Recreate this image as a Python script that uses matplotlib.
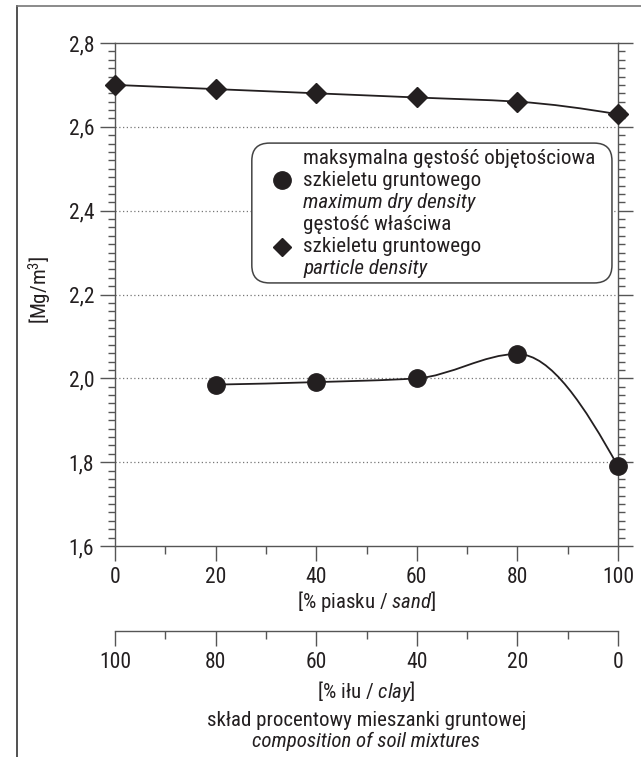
import numpy as np
import matplotlib
matplotlib.use("Agg")
import matplotlib.pyplot as plt
from matplotlib import font_manager
from matplotlib.path import Path
from matplotlib.patches import PathPatch, FancyBboxPatch
from matplotlib.lines import Line2D

# --- data ---
sand_pct = [0, 20, 40, 60, 80, 100]
particle_density = [2.70, 2.69, 2.68, 2.67, 2.66, 2.63]
dry_sand_pct = [20, 40, 60, 80, 100]
max_dry_density = [1.985, 1.991, 2.000, 2.058, 1.790]

y_ticks = [1.6, 1.8, 2.0, 2.2, 2.4, 2.6, 2.8]
y_labels = ["1,6", "1,8", "2,0", "2,2", "2,4", "2,6", "2,8"]
x_ticks = [0, 20, 40, 60, 80, 100]
clay_ticks = [100, 80, 60, 40, 20, 0]

# condensed sans like the original print
names = {f.name for f in font_manager.fontManager.ttflist}
font = "DejaVu Sans"
for cand in ["Roboto Condensed", "Archivo Narrow", "Liberation Sans Narrow"]:
    if cand in names:
        font = cand
        break
plt.rcParams["font.family"] = [font, "DejaVu Sans"]
plt.rcParams["font.stretch"] = "condensed"
plt.rcParams["mathtext.fontset"] = "custom"
plt.rcParams["mathtext.rm"] = font
plt.rcParams["mathtext.it"] = font + ":italic"

INK = "#231f20"
AXC = "#555555"
FS = 15.5
FS_LEG = 15.2
FS_LAB = 15


def smooth_path(x, y):
    # monotone cubic (pchip-style) through the points, drawn as bezier segments
    x = np.asarray(x, float)
    y = np.asarray(y, float)
    h = np.diff(x)
    d = np.diff(y) / h
    m = np.zeros_like(y)
    m[0] = ((2 * h[0] + h[1]) * d[0] - h[0] * d[1]) / (h[0] + h[1])
    m[-1] = ((2 * h[-1] + h[-2]) * d[-1] - h[-1] * d[-2]) / (h[-1] + h[-2])
    for i in range(1, len(x) - 1):
        if d[i - 1] * d[i] > 0:
            w1 = 2 * h[i] + h[i - 1]
            w2 = h[i] + 2 * h[i - 1]
            m[i] = (w1 + w2) / (w1 / d[i - 1] + w2 / d[i])
    verts = [(x[0], y[0])]
    codes = [Path.MOVETO]
    for i in range(len(x) - 1):
        verts += [(x[i] + h[i] / 3, y[i] + m[i] * h[i] / 3),
                  (x[i + 1] - h[i] / 3, y[i + 1] - m[i + 1] * h[i] / 3),
                  (x[i + 1], y[i + 1])]
        codes += [Path.CURVE4] * 3
    return Path(verts, codes)


W, H = 641, 757
fig = plt.figure(figsize=(W / 100, H / 100), dpi=100)

L, R, T, B = 115, 618, 43, 546
ax = fig.add_axes([L / W, 1 - B / H, (R - L) / W, (B - T) / H])
ax.set_xlim(0, 100)
ax.set_ylim(1.6, 2.8)

for s in ax.spines.values():
    s.set_color(AXC)
    s.set_linewidth(1.0)

ax.set_yticks(y_ticks)
ax.set_yticklabels(y_labels)
ax.set_yticks(np.arange(1.6, 2.8, 0.02), minor=True)
ax.set_xticks(x_ticks)
ax.set_xticks(np.arange(10, 100, 20), minor=True)
ax.tick_params(axis="both", which="major", direction="out", length=11, width=1.0,
               color=AXC, labelsize=FS, labelcolor=INK)
ax.tick_params(axis="y", which="both", left=True, right=True, labelright=False)
ax.tick_params(axis="y", which="minor", direction="out", length=5, width=1.0, color=AXC)
ax.tick_params(axis="x", which="minor", direction="out", length=6, width=1.0, color=AXC)
ax.tick_params(axis="x", which="major", pad=4)
ax.tick_params(axis="y", which="major", pad=4)

for yv in y_ticks[1:-1]:
    ax.axhline(yv, color="#777777", lw=0.9, ls=(0, (1, 2)), zorder=1)

ax.add_patch(PathPatch(smooth_path(sand_pct, particle_density), fill=False,
                       ec=INK, lw=1.3, zorder=3, clip_on=False))
ax.add_patch(PathPatch(smooth_path(dry_sand_pct, max_dry_density), fill=False,
                       ec=INK, lw=1.3, zorder=3, clip_on=False))
ax.plot(sand_pct, particle_density, ls="none", marker="D", ms=10, color=INK,
        zorder=4, clip_on=False)
ax.plot(dry_sand_pct, max_dry_density, ls="none", marker="o", ms=12.5, color=INK,
        zorder=4, clip_on=False)

# legend box drawn by hand
box = FancyBboxPatch((0.272, 0.523), 0.716, 0.278,
                     boxstyle="round,pad=0,rounding_size=0.035",
                     transform=ax.transAxes, fc="white", ec="#444444", lw=1.1, zorder=5)
ax.add_patch(box)
tx = 0.374
lines = [("maksymalna gęstość objętościowa", "normal", 0.771),
         ("szkieletu gruntowego", "normal", 0.727),
         ("maximum dry density", "italic", 0.683),
         ("gęstość właściwa", "normal", 0.639),
         ("szkieletu gruntowego", "normal", 0.595),
         ("particle density", "italic", 0.552)]
for txt, st, yy in lines:
    ax.text(tx, yy, txt, transform=ax.transAxes, fontsize=FS_LEG, style=st,
            va="center", ha="left", color=INK, zorder=6)
ax.plot([0.332], [0.727], marker="o", ms=12.5, color=INK, transform=ax.transAxes,
        zorder=6, clip_on=False)
ax.plot([0.332], [0.595], marker="D", ms=9, color=INK, transform=ax.transAxes,
        zorder=6, clip_on=False)

# second x axis (clay)
ax2 = fig.add_axes([L / W, 1 - 631 / H, (R - L) / W, 0.0001])
ax2.set_xlim(100, 0)
ax2.set_ylim(0, 1)
for k in ["left", "right", "top"]:
    ax2.spines[k].set_visible(False)
ax2.spines["bottom"].set_color(AXC)
ax2.spines["bottom"].set_linewidth(1.0)
ax2.set_yticks([])
ax2.set_xticks(clay_ticks)
ax2.set_xticks(np.arange(10, 100, 20), minor=True)
ax2.tick_params(axis="x", which="major", direction="out", length=11, width=1.0,
                color=AXC, labelsize=FS, labelcolor=INK, pad=4)
ax2.tick_params(axis="x", which="minor", direction="out", length=6, width=1.0, color=AXC)
ax2.patch.set_visible(False)

cx = (L + R) / 2 / W
fig.text(cx, 1 - 602 / H, r"[% piasku / $\mathit{sand}$]", ha="center", va="center",
         fontsize=FS_LAB, color=INK)
fig.text(cx, 1 - 691 / H, r"[% iłu / $\mathit{clay}$]", ha="center", va="center",
         fontsize=FS_LAB, color=INK)
fig.text(cx, 1 - 721 / H, "skład procentowy mieszanki gruntowej", ha="center",
         va="center", fontsize=FS_LAB, color=INK)
fig.text(cx, 1 - 741 / H, "composition of soil mixtures", ha="center", va="center",
         fontsize=FS_LAB, style="italic", color=INK)
fig.text(40 / W, 1 - 290 / H, r"[Mg/m$^3$]", rotation=90, ha="center", va="center",
         fontsize=FS_LAB, color=INK)

# frame lines
fig.add_artist(Line2D([17 / W, 17 / W], [0, 1 - 6 / H], color="#333333", lw=1.2))
fig.add_artist(Line2D([17 / W, 1], [1 - 6 / H, 1 - 6 / H], color="#777777", lw=1.2))

fig.savefig("out.png", dpi=100)
